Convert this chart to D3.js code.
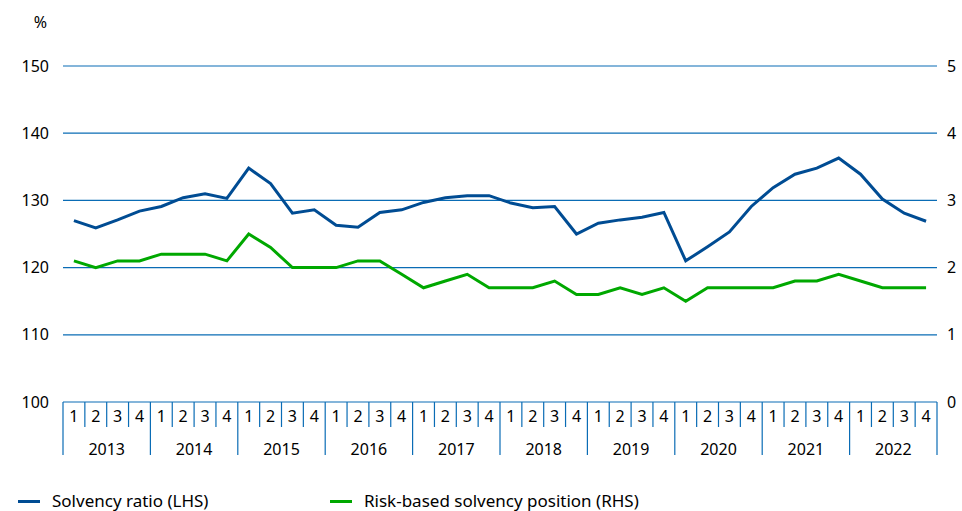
<!DOCTYPE html>
<html><head><meta charset="utf-8">
<script src="https://cdn.jsdelivr.net/npm/d3@7"></script>
<style>
html,body{margin:0;padding:0;background:#fff;}
svg text{font-family:"Noto Sans",sans-serif;fill:#000;}
</style></head>
<body><svg id="c" width="962" height="511"></svg>
<script>
const years = ["2013","2014","2015","2016","2017","2018","2019","2020","2021","2022"];
const quarterLabels = ["1","2","3","4"];
const solvencyRatio = [127.0,125.9,127.1,128.4, 129.1,130.4,131.0,130.3, 134.8,132.5,128.1,128.6,
  126.3,126.0,128.2,128.6, 129.7,130.4,130.7,130.7, 129.6,128.9,129.1,125.0,
  126.6,127.1,127.5,128.2, 121.0,123.1,125.3,129.1, 131.9,133.9,134.8,136.3,
  133.9,130.2,128.1,126.9];
const riskBased = [2.1,2.0,2.1,2.1, 2.2,2.2,2.2,2.1, 2.5,2.3,2.0,2.0,
  2.0,2.1,2.1,1.9, 1.7,1.8,1.9,1.7, 1.7,1.7,1.8,1.6,
  1.6,1.7,1.6,1.7, 1.5,1.7,1.7,1.7, 1.7,1.8,1.8,1.9,
  1.8,1.7,1.7,1.7];
const leftTicks = [100,110,120,130,140,150];
const rightTicks = [0,1,2,3,4,5];
const seriesNames = ["Solvency ratio (LHS)","Risk-based solvency position (RHS)"];
const colors = {blue:"#004c93", green:"#00a800", grid:"#0a6cb5"};

const svg = d3.select("#c");
const X0 = 63, X1 = 937, YT = 66, YB = 402;
const keys = [];
years.forEach(y => quarterLabels.forEach(q => keys.push(y+"-"+q)));
const x = d3.scaleBand().domain(keys).range([X0, X1]);
const y = d3.scaleLinear().domain([100,150]).range([YB, YT]);
const y2 = d3.scaleLinear().domain([0,5]).range([YB, YT]);
const fs = 16;

// gridlines
svg.append("g").selectAll("line").data(leftTicks).join("line")
  .attr("x1", X0).attr("x2", X1).attr("y1", d=>y(d)).attr("y2", d=>y(d))
  .attr("stroke", colors.grid).attr("stroke-width", 1.2);

// left axis labels
const la = svg.append("g").attr("transform", `translate(${X0},0)`)
  .call(d3.axisLeft(y).tickValues(leftTicks).tickFormat(d3.format("d")).tickSize(0).tickPadding(14));
la.select(".domain").remove();
la.selectAll("text").attr("font-size", fs).attr("font-family","Noto Sans");

// right axis labels
const ra = svg.append("g").attr("transform", `translate(${X1},0)`)
  .call(d3.axisRight(y2).tickValues(rightTicks).tickFormat(d3.format("d")).tickSize(0).tickPadding(10));
ra.select(".domain").remove();
ra.selectAll("text").attr("font-size", fs).attr("font-family","Noto Sans");

svg.append("text").attr("x", 47).attr("y", 22).attr("text-anchor","end")
  .attr("dominant-baseline","central").attr("font-size", fs).text("%");

// bottom category axis
const bw = x.bandwidth();
const g = svg.append("g");
keys.forEach((k,i) => {
  const xl = x(k);
  g.append("line").attr("x1", xl).attr("x2", xl).attr("y1", YB)
    .attr("y2", i%4===0 ? 455 : 427).attr("stroke", colors.grid).attr("stroke-width", 1.2);
  g.append("text").attr("x", xl + bw/2).attr("y", 416).attr("text-anchor","middle")
    .attr("dominant-baseline","central").attr("font-size", fs).text(k.split("-")[1]);
});
g.append("line").attr("x1", X1).attr("x2", X1).attr("y1", YB).attr("y2", 455)
  .attr("stroke", colors.grid).attr("stroke-width", 1.2);
years.forEach(yr => {
  const xs = x(yr+"-1"), xe = x(yr+"-4") + bw;
  g.append("text").attr("x", (xs+xe)/2).attr("y", 449).attr("text-anchor","middle")
    .attr("dominant-baseline","central").attr("font-size", fs).text(yr);
});

// lines
const cx = i => x(keys[i]) + bw/2;
svg.append("path").datum(riskBased)
  .attr("d", d3.line().x((d,i)=>cx(i)).y(d=>y2(d)))
  .attr("fill","none").attr("stroke", colors.green).attr("stroke-width", 3);
svg.append("path").datum(solvencyRatio)
  .attr("d", d3.line().x((d,i)=>cx(i)).y(d=>y(d)))
  .attr("fill","none").attr("stroke", colors.blue).attr("stroke-width", 3);

// legend
const leg = [{n:seriesNames[0], c:colors.blue, x:18}, {n:seriesNames[1], c:colors.green, x:330}];
leg.forEach(l => {
  svg.append("line").attr("x1", l.x).attr("x2", l.x+22).attr("y1", 501.5).attr("y2", 501.5)
    .attr("stroke", l.c).attr("stroke-width", 3);
  svg.append("text").attr("x", l.x+34).attr("y", 500).attr("dominant-baseline","central")
    .attr("font-size", 17).text(l.n);
});
</script></body></html>
